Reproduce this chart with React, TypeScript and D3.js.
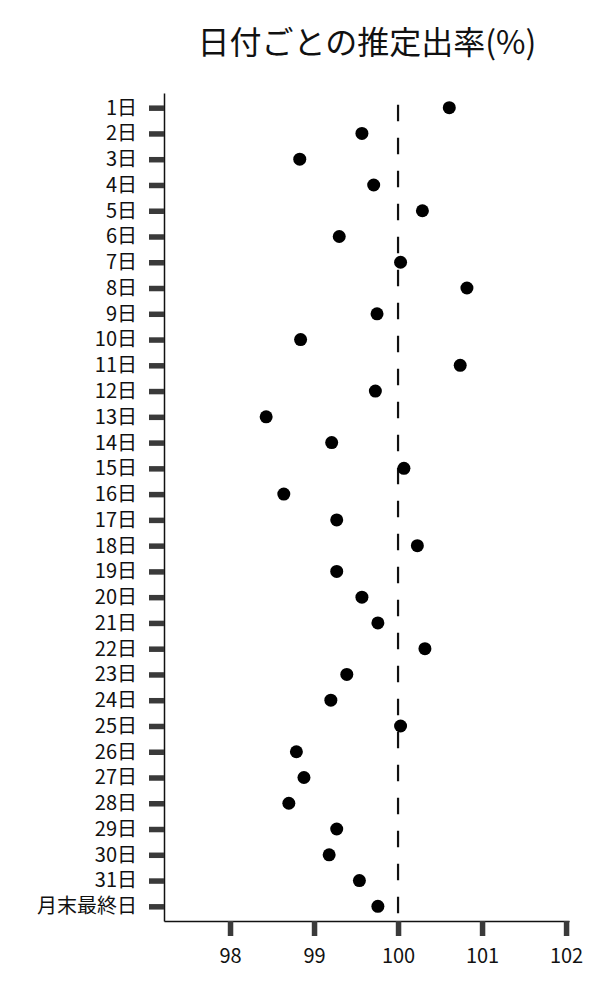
import { useEffect, useRef } from 'react';
import * as d3 from 'd3';

// Categories (days of month) and estimated rates
const days: string[] = [
  '1日', '2日', '3日', '4日', '5日', '6日', '7日', '8日', '9日', '10日',
  '11日', '12日', '13日', '14日', '15日', '16日', '17日', '18日', '19日', '20日',
  '21日', '22日', '23日', '24日', '25日', '26日', '27日', '28日', '29日', '30日',
  '31日', '月末最終日',
];

const rates: number[] = [
  100.61, 99.57, 98.83, 99.71, 100.29, 99.30, 100.03, 100.82, 99.75, 98.84,
  100.74, 99.73, 98.43, 99.21, 100.07, 98.64, 99.27, 100.23, 99.27, 99.57,
  99.76, 100.32, 99.39, 99.20, 100.03, 98.79, 98.88, 98.70, 99.27, 99.18,
  99.54, 99.76,
];

const xTicks: number[] = [98, 99, 100, 101, 102];
const referenceValue = 100;
const title = '日付ごとの推定出率(%)';

const FONT = '"Noto Sans CJK JP", "Noto Sans", sans-serif';

export default function App(): JSX.Element {
  const svgRef = useRef<SVGSVGElement>(null);

  useEffect(() => {
    if (!svgRef.current) return;
    const svg = d3.select(svgRef.current);
    svg.selectAll('*').remove();

    const width = 600;
    const height = 1000;
    const left = 164;
    const right = 569;
    const top = 93;
    const bottom = 921;

    const x = d3.scaleLinear().domain([97.214, 102.035]).range([left, right]);
    const y = d3.scalePoint<string>().domain(days).range([top, bottom]).padding(0.57);

    svg.attr('width', width).attr('height', height);

    // Title
    svg.append('text')
      .attr('x', 367)
      .attr('y', 54)
      .attr('text-anchor', 'middle')
      .style('font-family', FONT)
      .style('font-size', '32px')
      .style('fill', '#111')
      .text(title);

    // Y axis (no outer ticks)
    const yAxis = svg.append('g')
      .attr('transform', `translate(${left},0)`)
      .call(d3.axisLeft(y).tickSizeInner(15).tickSizeOuter(0).tickPadding(12));
    yAxis.select('.domain').attr('stroke', '#111').attr('stroke-width', 1.5);
    yAxis.selectAll('.tick line').attr('stroke', '#3a3a3a').attr('stroke-width', 5.5);
    yAxis.selectAll('.tick text')
      .style('font-family', FONT)
      .style('font-size', '20px')
      .style('fill', '#111');

    // X axis
    const xAxis = svg.append('g')
      .attr('transform', `translate(0,${bottom})`)
      .call(
        d3.axisBottom(x)
          .tickValues(xTicks)
          .tickSizeInner(15)
          .tickSizeOuter(0)
          .tickPadding(13)
          .tickFormat(d3.format('d'))
      );
    xAxis.select('.domain').attr('stroke', '#111').attr('stroke-width', 1.5);
    xAxis.selectAll('.tick line').attr('stroke', '#3a3a3a').attr('stroke-width', 5.5);
    xAxis.selectAll('.tick text')
      .style('font-family', FONT)
      .style('font-size', '20px')
      .style('fill', '#111');

    // Reference line at 100
    svg.append('line')
      .attr('x1', x(referenceValue))
      .attr('x2', x(referenceValue))
      .attr('y1', (y(days[0]) ?? top) - 3)
      .attr('y2', bottom)
      .attr('stroke', '#111')
      .attr('stroke-width', 2.2)
      .attr('stroke-dasharray', '16.5,16.5');

    // Dots
    svg.append('g')
      .selectAll('circle')
      .data(days)
      .enter()
      .append('circle')
      .attr('cx', (_, i) => x(rates[i]))
      .attr('cy', d => y(d) ?? 0)
      .attr('r', 6.5)
      .attr('fill', '#000');
  }, []);

  return (
    <svg
      ref={svgRef}
      style={{ position: 'absolute', left: 0, top: 0, background: '#fff' }}
    />
  );
}
